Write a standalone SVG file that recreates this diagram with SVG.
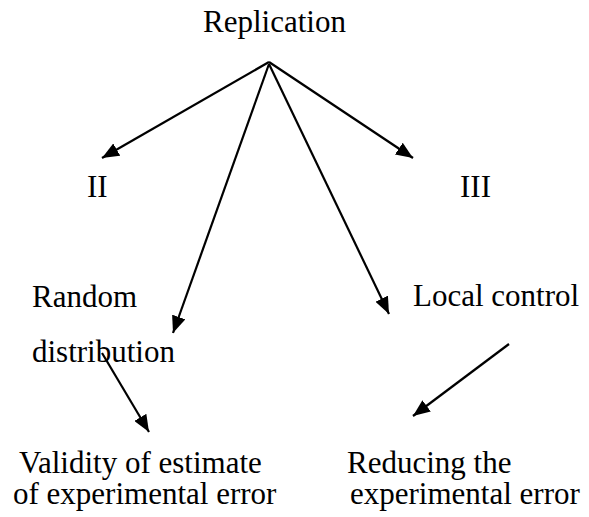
<svg xmlns="http://www.w3.org/2000/svg" width="589" height="517" viewBox="0 0 589 517">
<style>
text{font-family:'Liberation Serif','Times New Roman','DejaVu Serif',serif;font-size:31px;fill:#000}
.c line{stroke:#000;stroke-width:2.2;fill:none}
</style>
<defs>
<marker id="ah" markerUnits="userSpaceOnUse" markerWidth="18" markerHeight="14" refX="17" refY="7" orient="auto">
<path d="M0,0 L17,7 L0,14 z" fill="#000"/>
</marker>
</defs>
<rect width="589" height="517" fill="#fff"/>
<g id="replication"><text x="203" y="32" font-family="Liberation Serif, serif">Replication</text></g>
<g id="ii"><text x="87" y="197" font-family="Liberation Serif, serif">II</text></g>
<g id="iii"><text x="460" y="197" font-family="Liberation Serif, serif">III</text></g>
<g id="random"><text x="32" y="307" font-family="Liberation Serif, serif">Random</text><text x="32" y="362" font-family="Liberation Serif, serif">distribution</text></g>
<g id="local"><text x="413" y="306" font-family="Liberation Serif, serif">Local control</text></g>
<g id="validity"><text x="19" y="473" font-family="Liberation Serif, serif">Validity of estimate</text><text x="13" y="504" font-family="Liberation Serif, serif">of experimental error</text></g>
<g id="reducing"><text x="347" y="473" font-family="Liberation Serif, serif">Reducing the</text><text x="350" y="504" font-family="Liberation Serif, serif">experimental error</text></g>
<g class="c" id="connectors">
<line x1="269" y1="62" x2="102" y2="158" marker-end="url(#ah)"/>
<line x1="269" y1="62" x2="413" y2="158" marker-end="url(#ah)"/>
<line x1="269" y1="64" x2="173" y2="333" marker-end="url(#ah)"/>
<line x1="269" y1="64" x2="389" y2="314" marker-end="url(#ah)"/>
<line x1="102" y1="353" x2="149" y2="432" marker-end="url(#ah)"/>
<line x1="509" y1="344" x2="413" y2="416" marker-end="url(#ah)"/>
</g>
</svg>
